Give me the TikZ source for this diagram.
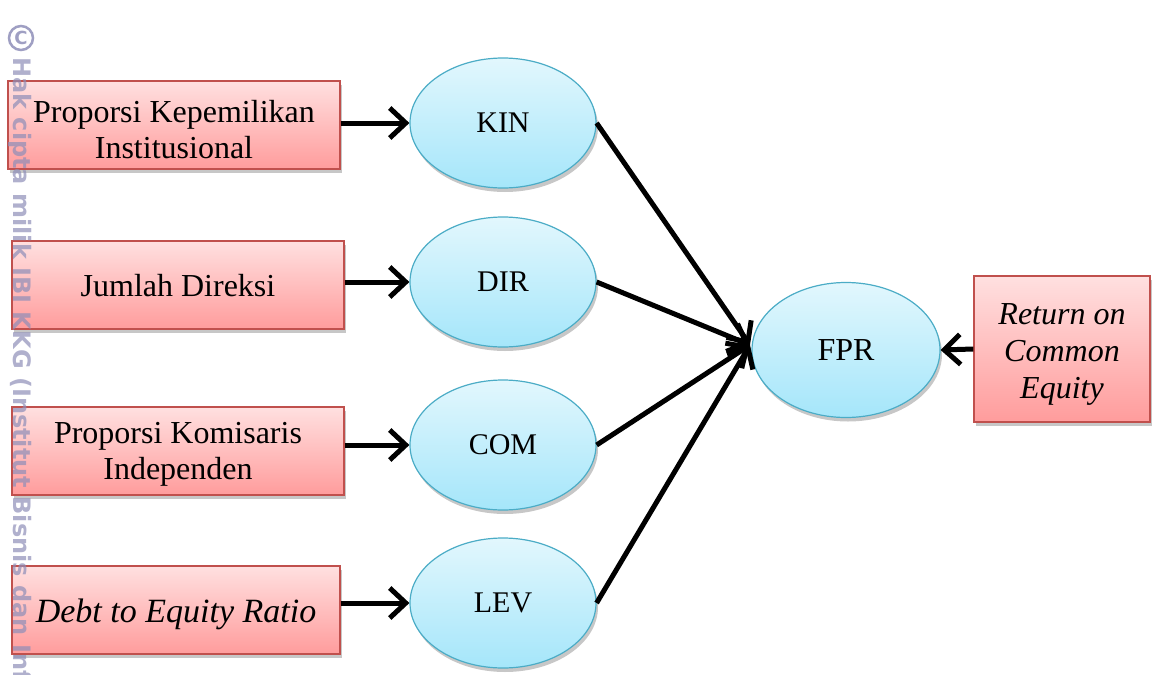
\documentclass[tikz,border=0pt]{standalone}
\usepackage{fontspec}
\setmainfont{Liberation Serif}
\newfontfamily\wmfont{DejaVu Sans}
\usetikzlibrary{arrows.meta,shadows,shapes.geometric}
\definecolor{boxborder}{HTML}{C0504D}
\definecolor{boxtop}{HTML}{FFE0E0}
\definecolor{boxbot}{HTML}{FF9C9C}
\definecolor{elborder}{HTML}{4BACC6}
\definecolor{eltop}{HTML}{E2F7FD}
\definecolor{elbot}{HTML}{A5E6FA}
\definecolor{wm}{HTML}{8E8EB8}
\tikzset{
  inbox/.style={draw=boxborder, line width=1.2pt, top color=boxtop, bottom color=boxbot,
    minimum width=332pt, minimum height=88pt, inner sep=0pt,
    drop shadow={shadow xshift=2pt, shadow yshift=-4pt, fill=black, opacity=0.22}},
  intext/.style={align=center, inner sep=0pt, font=\fontsize{32}{36}\selectfont},
  var/.style={ellipse, draw=elborder, line width=1.2pt, top color=eltop, bottom color=elbot,
    minimum width=186pt, minimum height=130pt, inner sep=0pt,
    font=\fontsize{30}{34}\selectfont,
    drop shadow={shadow xshift=2pt, shadow yshift=-4pt, fill=black, opacity=0.22}},
  link/.style={line width=5pt, -{Straight Barb[length=16pt, width=30pt, line width=5pt]}},
}
\begin{document}
\begin{tikzpicture}[x=1pt, y=-1pt]
\useasboundingbox (0,0) rectangle (1152,675);
% input boxes
\node[inbox] (b1) at (174,125) {};
\node[intext] (t1) at ([yshift=-5pt]b1.center) {Proporsi Kepemilikan\\Institusional};
\node[inbox] (b2) at (178,285) {};
\node[intext] (t2) at ([yshift=-1pt]b2.center) {Jumlah Direksi};
\node[inbox] (b3) at (178,451) {};
\node[intext] (t3) at ([yshift=-3pt]b3.center) {Proporsi Komisaris\\Independen};
\node[inbox, minimum width=328pt] (b4) at (176,610) {};
\node[intext, font=\fontsize{34}{36}\selectfont\itshape] (t4) at ([yshift=-4pt]b4.center) {Debt to Equity Ratio};
% variables
\node[var] (kin) at (503,123) {KIN};
\node[var] (dir) at (503,282) {DIR};
\node[var] (com) at (503,445) {COM};
\node[var] (lev) at (503,603) {LEV};
\node[var, minimum width=188pt, minimum height=135pt, font=\fontsize{32}{34}\selectfont] (fpr) at (846,350) {FPR};
\node[inbox, minimum width=176pt, minimum height=146pt] (roe) at (1062,349) {};
\node[intext, font=\fontsize{32}{37}\selectfont\itshape] (t5) at ([yshift=-5pt]roe.center) {Return on\\Common\\Equity};
% arrows
\draw[link] (b1.east |- kin) -- (kin.west);
\draw[link] (b2.east |- dir) -- (dir.west);
\draw[link] (b3.east |- com) -- (com.west);
\draw[link] (b4.east |- lev) -- (lev.west);
\coordinate (fin) at (750,345);
\draw[link] (kin.east) -- (fin);
\draw[link] (dir.east) -- (fin);
\draw[link] (com.east) -- (fin);
\draw[link] (lev.east) -- (fin);
\draw[link] (roe.west) -- (fpr.east);
% watermark
\node[circle, draw=wm, line width=2.5pt, minimum size=24pt, inner sep=0pt, opacity=0.85, text=wm, font=\wmfont\bfseries\fontsize{18}{18}\selectfont] (wmc) at (21,38) {C};
\node[text=wm, opacity=0.7, font=\wmfont\bfseries\fontsize{24}{24}\selectfont, rotate=-90, anchor=west, inner sep=0pt] (wmt) at (20,57) {Hak cipta milik IBI KKG (Institut Bisnis dan Info};
\end{tikzpicture}
\end{document}
